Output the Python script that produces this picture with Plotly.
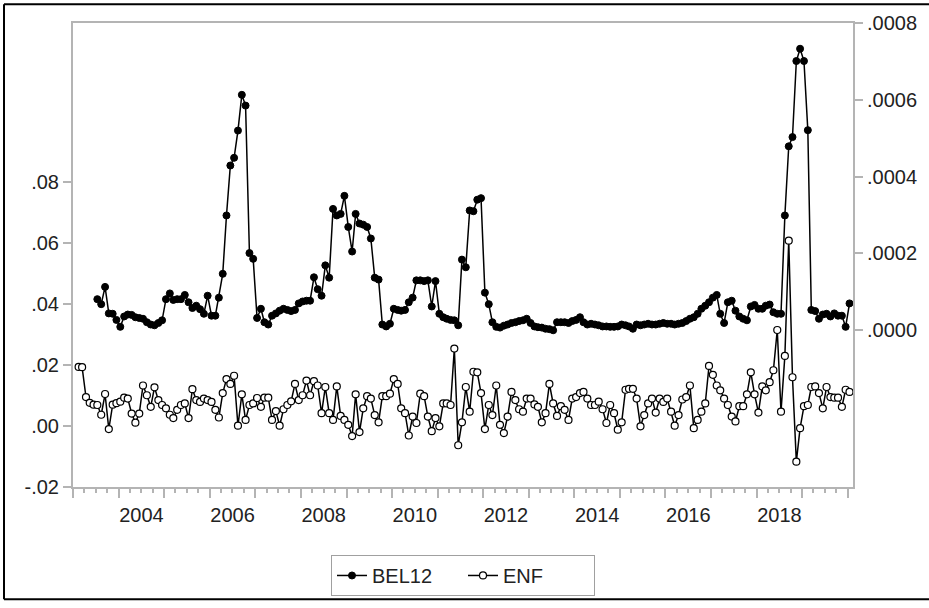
import pandas as pd
import plotly.graph_objects as go

# ---------------- data (monthly) ----------------
ENF_START = "2003-02-01"      # first ENF observation
BEL12_LAG = 5                  # BEL12 starts 5 months later

ENF = [
    19.3e-3, 19.2e-3, 9.4e-3, 7.5e-3, 6.9e-3, 6.8e-3, 3.6e-3, 10.4e-3, -1.1e-3, 6.9e-3,
    7.4e-3, 7.9e-3, 9.2e-3, 8.9e-3, 4.0e-3, 1.0e-3, 4.0e-3, 13.2e-3, 10.0e-3, 6.2e-3,
    12.6e-3, 8.4e-3, 6.8e-3, 5.7e-3, 3.6e-3, 2.5e-3, 5.2e-3, 6.8e-3, 7.3e-3, 2.5e-3,
    12.0e-3, 8.4e-3, 7.8e-3,
    8.9e-3, 8.4e-3, 7.8e-3, 5.2e-3, 2.7e-3, 10.7e-3, 15.3e-3, 13.7e-3, 16.4e-3, 0.0e-3,
    10.3e-3, 1.9e-3, 6.8e-3, 7.3e-3, 9.1e-3, 6.2e-3, 9.2e-3, 9.2e-3, 1.9e-3, 4.8e-3,
    0.0e-3, 5.4e-3, 6.8e-3, 8.0e-3, 13.7e-3, 8.4e-3, 10.0e-3, 14.8e-3, 10.0e-3, 14.6e-3,
    13.2e-3, 4.1e-3, 12.7e-3, 4.1e-3, 1.9e-3,
    12.9e-3, 3.2e-3, 1.9e-3, 0.3e-3, -3.4e-3, 10.3e-3, -2.1e-3, 5.7e-3, 9.7e-3, 8.9e-3,
    3.5e-3, 1.1e-3, 9.7e-3, 9.7e-3, 10.5e-3, 15.3e-3, 13.7e-3, 5.7e-3, 4.1e-3, -3.2e-3,
    3.0e-3, 0.9e-3, 10.5e-3, 9.7e-3, 3.0e-3, -1.8e-3, 2.5e-3, -0.2e-3, 7.3e-3, 7.3e-3,
    6.8e-3, 25.3e-3, -6.4e-3, 1.1e-3,
    12.7e-3, 4.6e-3, 17.7e-3, 17.5e-3, 10.7e-3, -1.1e-3, 6.8e-3, 3.5e-3, 13.2e-3, 0.3e-3,
    -2.4e-3, 3.0e-3, 11.1e-3, 8.4e-3, 5.4e-3, 4.6e-3, 8.9e-3, 8.9e-3, 7.0e-3, 6.2e-3,
    1.1e-3, 4.1e-3, 13.7e-3, 7.3e-3, 3.2e-3, 6.4e-3, 5.2e-3, 1.9e-3, 8.9e-3, 9.4e-3,
    10.7e-3, 11.1e-3, 8.9e-3, 6.8e-3,
    6.8e-3,
    7.9e-3, 5.4e-3, 0.9e-3, 6.8e-3, 4.1e-3, -1.3e-3, 1.1e-3, 11.8e-3, 12.1e-3, 12.1e-3,
    8.9e-3, -0.2e-3, 3.5e-3, 7.3e-3, 8.9e-3, 4.3e-3, 8.9e-3, 7.8e-3, 8.9e-3, 4.6e-3,
    0.0e-3, 3.5e-3, 8.6e-3, 9.4e-3, 13.2e-3, -0.8e-3, 1.9e-3, 4.6e-3, 7.3e-3, 19.6e-3,
    16.7e-3, 13.2e-3, 11.6e-3,
    8.9e-3, 6.8e-3, 3.0e-3, 1.4e-3, 6.4e-3, 6.4e-3, 10.3e-3, 17.5e-3, 10.3e-3, 4.3e-3,
    12.9e-3, 11.6e-3, 14.3e-3, 18.2e-3, 31.4e-3, 4.6e-3, 22.9e-3, 60.7e-3, 15.9e-3, -11.8e-3,
    -0.8e-3, 6.4e-3, 6.8e-3, 12.7e-3, 12.9e-3, 10.7e-3, 5.7e-3, 12.7e-3, 9.4e-3, 9.2e-3,
    9.2e-3, 6.2e-3, 11.8e-3, 11.1e-3,
]

BEL12 = [
    8.1e-5, 6.8e-5, 11.3e-5, 4.4e-5, 4.3e-5, 2.7e-5, 0.9e-5, 3.6e-5, 4.1e-5, 4.0e-5,
    3.4e-5, 3.2e-5, 3.0e-5, 2.1e-5, 1.5e-5, 1.3e-5, 1.9e-5, 2.6e-5, 8.1e-5, 9.6e-5,
    7.9e-5, 8.1e-5, 8.1e-5, 9.2e-5, 7.3e-5, 5.8e-5, 6.4e-5, 5.5e-5,
    4.3e-5, 9.0e-5, 3.8e-5, 3.8e-5, 8.5e-5, 14.7e-5, 29.9e-5, 42.9e-5, 44.9e-5, 52.0e-5,
    61.3e-5, 58.5e-5, 20.1e-5, 18.6e-5, 3.2e-5, 5.6e-5, 2.1e-5, 1.5e-5, 3.8e-5, 4.4e-5,
    5.1e-5, 5.6e-5, 5.3e-5, 5.0e-5, 5.3e-5, 7.0e-5, 7.5e-5, 7.7e-5, 7.7e-5, 13.8e-5,
    10.7e-5, 9.0e-5, 16.9e-5, 13.7e-5, 31.6e-5,
    29.9e-5, 30.3e-5, 35.0e-5, 26.9e-5, 20.5e-5, 30.3e-5, 27.8e-5, 27.5e-5, 26.9e-5, 23.9e-5,
    13.7e-5, 13.2e-5, 1.5e-5, 1.0e-5, 1.7e-5, 5.6e-5, 5.3e-5, 5.1e-5, 5.3e-5, 7.3e-5,
    8.5e-5, 13.0e-5, 13.0e-5, 12.8e-5, 13.0e-5, 6.2e-5, 12.8e-5, 4.3e-5, 3.4e-5, 3.0e-5,
    2.7e-5, 2.6e-5, 1.3e-5, 18.4e-5,
    16.4e-5, 31.2e-5, 31.0e-5, 34.0e-5, 34.4e-5, 9.8e-5, 6.8e-5, 2.1e-5, 0.9e-5, 0.7e-5,
    1.2e-5, 1.5e-5, 1.9e-5, 2.1e-5, 2.4e-5, 2.6e-5, 3.0e-5, 1.9e-5, 1.0e-5, 0.8e-5,
    0.7e-5, 0.4e-5, 0.3e-5, 0.0e-5, 2.1e-5, 2.1e-5, 2.1e-5, 1.9e-5, 2.4e-5, 2.7e-5,
    3.4e-5, 2.1e-5, 1.5e-5,
    1.7e-5, 1.5e-5, 1.3e-5, 1.0e-5, 1.0e-5, 0.9e-5, 0.9e-5, 1.0e-5, 1.5e-5, 1.3e-5,
    1.0e-5, 0.4e-5, 1.5e-5, 1.3e-5, 1.5e-5, 1.7e-5, 1.5e-5, 1.5e-5, 1.7e-5, 1.9e-5,
    1.7e-5, 1.7e-5, 1.5e-5, 1.7e-5, 1.9e-5, 2.4e-5, 3.0e-5, 3.4e-5, 4.3e-5, 5.6e-5,
    6.4e-5, 7.3e-5, 8.5e-5, 9.2e-5, 4.3e-5, 1.9e-5,
    7.3e-5, 7.7e-5, 5.1e-5, 3.6e-5, 3.0e-5, 2.6e-5, 6.2e-5, 6.6e-5, 5.6e-5, 5.6e-5,
    6.4e-5, 6.7e-5, 4.7e-5, 4.3e-5, 4.3e-5, 29.9e-5, 47.9e-5, 50.3e-5, 70.1e-5, 73.3e-5,
    70.1e-5, 52.1e-5, 5.3e-5, 5.0e-5, 3.0e-5, 4.1e-5, 4.3e-5, 3.6e-5, 4.4e-5, 3.8e-5,
    3.8e-5, 0.9e-5, 7.0e-5,
]

LEFT_TICKS = [-0.02, 0.0, 0.02, 0.04, 0.06, 0.08]
LEFT_LABELS = ["-.02", ".00", ".02", ".04", ".06", ".08"]
RIGHT_TICKS = [0.0, 0.0002, 0.0004, 0.0006, 0.0008]
RIGHT_LABELS = [".0000", ".0002", ".0004", ".0006", ".0008"]
HIDDEN_YEARS = ["2002", "2003", "2005", "2007", "2009", "2011", "2013", "2015", "2017", "2019", "2020"]

# monthly dates, observations plotted mid-month
dates = pd.date_range(ENF_START, periods=len(ENF), freq="MS") + pd.Timedelta(days=14)
bel_dates = dates[BEL12_LAG:BEL12_LAG + len(BEL12)]

AX = "#b4b4b4"
FONT = "Liberation Sans, Arial, sans-serif"
TXT = "#222222"

fig = go.Figure()
fig.add_trace(go.Scatter(
    x=bel_dates, y=BEL12, name="BEL12", yaxis="y2", mode="lines+markers",
    line=dict(color="black", width=1.5),
    marker=dict(symbol="circle", size=7, color="black", line=dict(color="black", width=1)),
))
fig.add_trace(go.Scatter(
    x=dates, y=ENF, name="ENF", yaxis="y", mode="lines+markers",
    line=dict(color="black", width=1.5),
    marker=dict(symbol="circle", size=7, color="white", line=dict(color="black", width=1.2)),
))

L, R, T, B = 73, 76, 21, 116
W, H = 929, 608
pw, ph = W - L - R, H - T - B

def px(xp):
    return (xp - L) / pw

def py(yp):
    return (H - B - yp) / ph

fig.update_layout(
    width=W, height=H, autosize=False,
    margin=dict(l=L, r=R, t=T, b=B, pad=0),
    paper_bgcolor="white", plot_bgcolor="white",
    font=dict(family=FONT, size=20, color=TXT),
    showlegend=True,
    legend=dict(
        orientation="h", x=0.5, xanchor="center", y=py(561), yanchor="top",
        bordercolor="#a0a0a0", borderwidth=1, bgcolor="white",
        font=dict(family=FONT, size=20, color=TXT),
        entrywidth=86, entrywidthmode="pixels", tracegroupgap=0,
    ),
    xaxis=dict(
        type="date", range=["2003-01-01", "2020-02-12"],
        tickmode="linear", tick0="2003-01-01", dtick="M12",
        ticklabelmode="period", tickformat="%Y",
        labelalias={y: " " for y in HIDDEN_YEARS},
        ticks="outside", ticklen=9, tickwidth=1.5, tickcolor=AX,
        minor=dict(dtick="M3", tick0="2003-01-01", ticks="outside", ticklen=4,
                   tickwidth=1.5, tickcolor=AX, showgrid=False),
        showline=True, linecolor=AX, linewidth=2, mirror=True,
        showgrid=False, zeroline=False,
        tickfont=dict(family=FONT, size=20, color=TXT),
    ),
    yaxis=dict(
        range=[-0.0201, 0.1321],
        tickmode="array", tickvals=LEFT_TICKS, ticktext=LEFT_LABELS,
        ticks="outside", ticklen=8, tickwidth=1.5, tickcolor=AX,
        showline=True, linecolor=AX, linewidth=2,
        showgrid=False, zeroline=False,
        tickfont=dict(family=FONT, size=20, color=TXT),
    ),
    yaxis2=dict(
        range=[-0.000408, 0.0008], overlaying="y", side="right",
        tickmode="array", tickvals=RIGHT_TICKS, ticktext=RIGHT_LABELS,
        ticks="outside", ticklen=8, tickwidth=1.5, tickcolor=AX,
        showline=True, linecolor=AX, linewidth=2,
        showgrid=False, zeroline=False,
        tickfont=dict(family=FONT, size=20, color=TXT),
    ),
)

# outer black frame of the picture
frame = dict(type="line", xref="paper", yref="paper", line=dict(color="black", width=2))
fig.add_shape(x0=px(4), x1=px(4), y0=py(2), y1=py(606), **frame)
fig.add_shape(x0=px(4), x1=px(929), y0=py(2), y1=py(2), **frame)
fig.add_shape(x0=px(4), x1=px(929), y0=py(606), y1=py(606), **frame)

fig.write_html("out.html")
